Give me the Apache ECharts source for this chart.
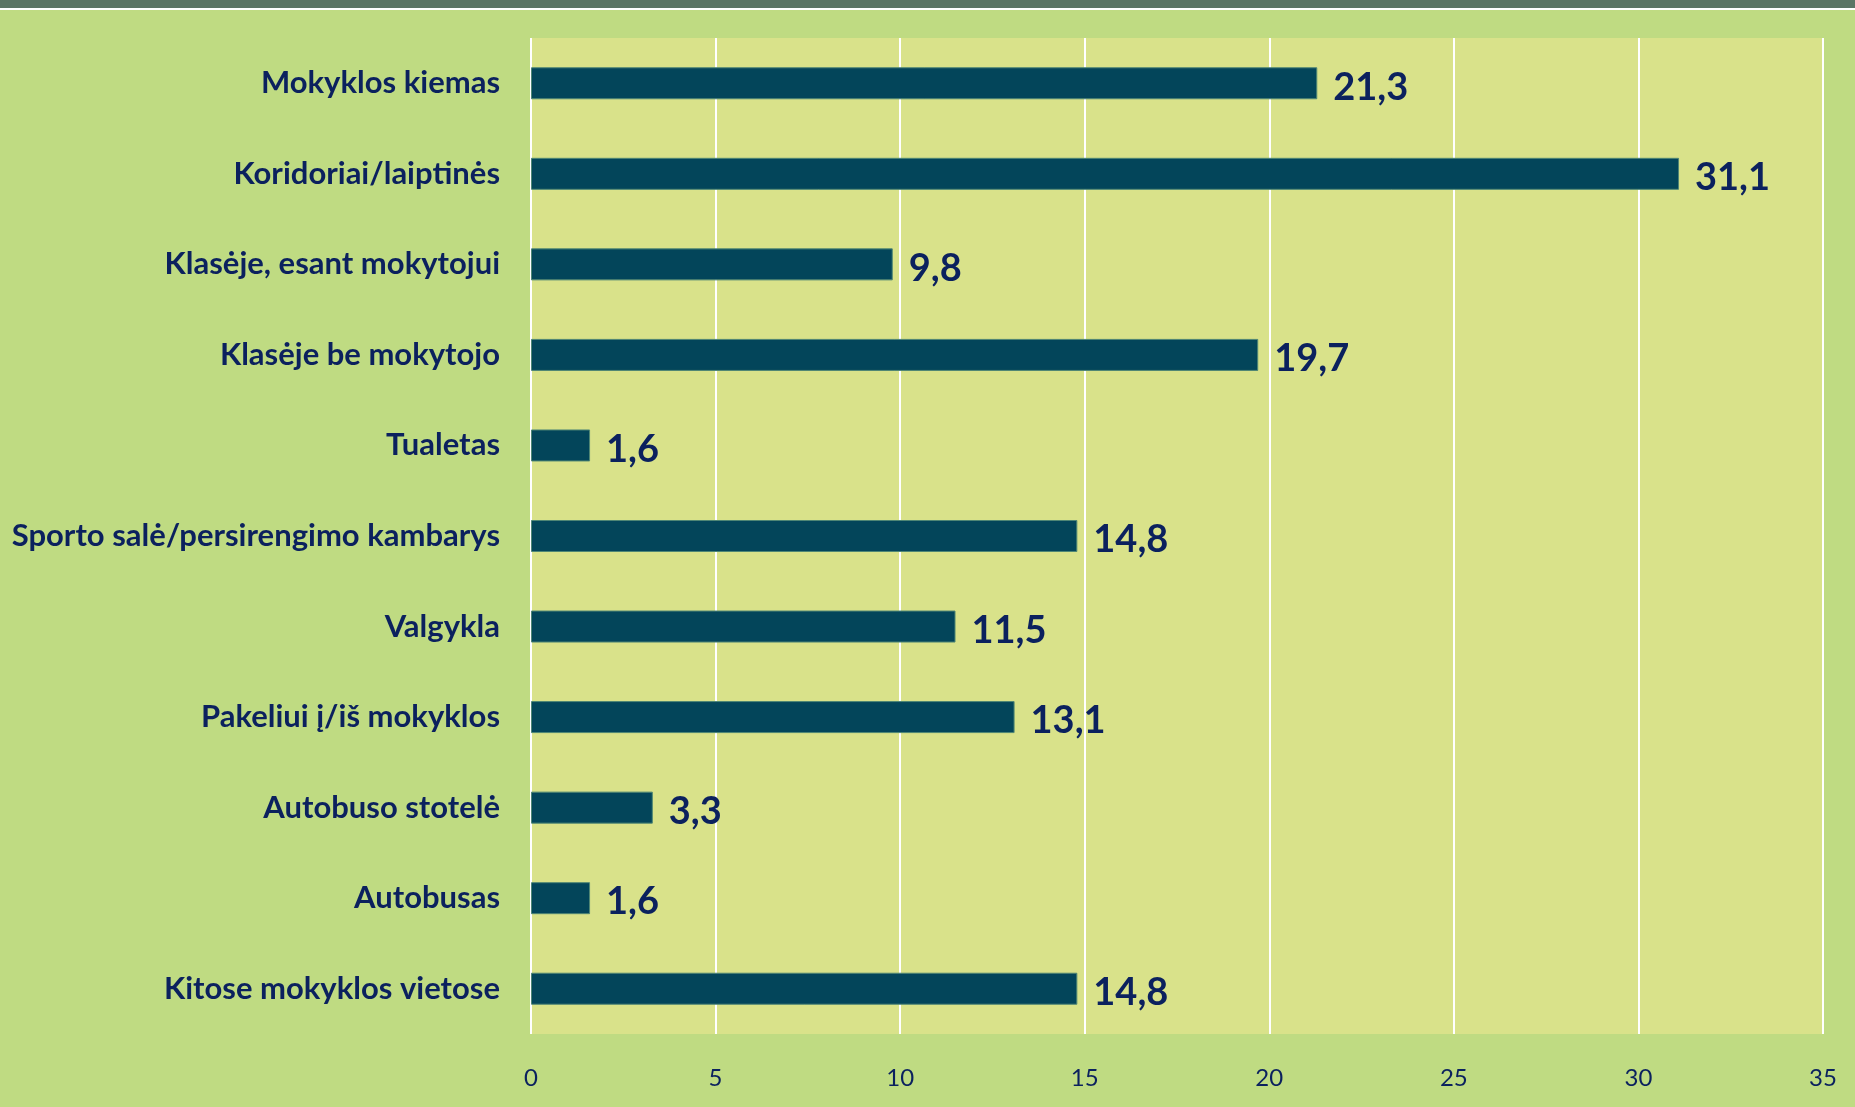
<!DOCTYPE html>
<html>
<head>
<meta charset="utf-8">
<script src="https://cdn.jsdelivr.net/npm/echarts@6/dist/echarts.min.js"></script>
<style>
  html, body { margin: 0; padding: 0; background: #bfdb82; }
  #band { height: 8px; background: #5b7565; border-bottom: 2px solid #ffffff; }
  #chart { width: 1855px; height: 1097px; }
</style>
</head>
<body>
<div id="band"></div>
<div id="chart"></div>
<script>
// vietos, kur patiriamos patyčios (%)
const places = [
  'Mokyklos kiemas',
  'Koridoriai/laiptinės',
  'Klasėje, esant mokytojui',
  'Klasėje be mokytojo',
  'Tualetas',
  'Sporto salė/persirengimo kambarys',
  'Valgykla',
  'Pakeliui į/iš mokyklos',
  'Autobuso stotelė',
  'Autobusas',
  'Kitose mokyklos vietose'
]
const shares = [21.3, 31.1, 9.8, 19.7, 1.6, 14.8, 11.5, 13.1, 3.3, 1.6, 14.8]

const navy = '#0b215e'

const chart = echarts.init( document.getElementById( 'chart' ) )

chart.setOption( {
  backgroundColor : '#bfdb82',
  animation : false,
  grid : {
    left : 531,
    right : 32,
    top : 28,
    bottom : 73,
    show : true,
    backgroundColor : '#d9e28a',
    borderWidth : 0
  },
  xAxis : {
    type : 'value',
    min : 0,
    max : 35,
    interval : 5,
    axisLine : { show : false },
    axisTick : { show : false },
    axisLabel : {
      margin : 32,
      color : navy,
      fontFamily : 'Lato',
      fontSize : 24
    },
    splitLine : {
      lineStyle : { color : '#ffffff', width : 2 }
    }
  },
  yAxis : {
    type : 'category',
    inverse : true,
    data : places,
    axisLine : { show : false },
    axisTick : { show : false },
    axisLabel : {
      margin : 31,
      color : navy,
      fontFamily : 'Lato',
      fontWeight : 'bold',
      fontSize : 31
    }
  },
  series : [
    {
      type : 'bar',
      data : shares,
      barWidth : 32,
      itemStyle : {
        color : '#03455a',
        borderColor : '#4f8675',
        borderWidth : 1
      },
      label : {
        show : true,
        position : 'right',
        distance : 16,
        color : navy,
        fontFamily : 'Lato',
        fontWeight : 'bold',
        fontSize : 38,
        offset : [0, 4],
        formatter : ( p ) => String( p.value ).replace( '.', ',' )
      }
    }
  ]
} )
</script>
</body>
</html>
